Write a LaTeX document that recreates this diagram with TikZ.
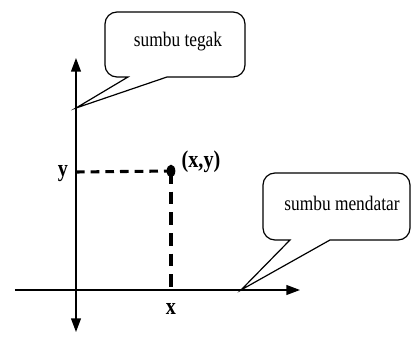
\documentclass[tikz,border=0pt]{standalone}
\usepackage{fontspec}
\setmainfont{Liberation Serif}
\newfontfamily\narrowserif[FakeStretch=0.84]{Liberation Serif}
\usetikzlibrary{arrows.meta,positioning,shapes.geometric}
\tikzset{
  axisline/.style={
    line width=1.1pt,
    -{Triangle[length=3.6mm,width=2.6mm]}
  },
  guide/.style={
    line width=2.3pt,
    dash pattern=on 6.5pt off 4.5pt
  },
  calloutbox/.style={
    draw,
    line width=0.9pt,
    fill=white
  },
  calloutlabel/.style={
    inner sep=0pt,
    font=\narrowserif\fontsize{15.5}{17}\selectfont
  },
  axislabel/.style={
    inner sep=0pt,
    font=\narrowserif\fontsize{18}{20}\selectfont\bfseries
  },
  pointdot/.style={
    ellipse,
    fill=black,
    minimum width=6.5pt,
    minimum height=9.5pt,
    inner sep=0pt
  }
}

\begin{document}
\begin{tikzpicture}[x=0.75pt,y=-0.75pt]
\useasboundingbox (0,0) rectangle (412,343);
\coordinate (ytop) at (76,58);
\coordinate (ybot) at (76,332);
\coordinate (xleft) at (15,290);
\coordinate (xright) at (300,290);
\coordinate (py) at (76,172);
\coordinate (px) at (171,290);
\coordinate (tegaktip) at (76,108);
\coordinate (datartip) at (241,290);
\node[pointdot] (p) at (171,171) {};

% axes
\draw[axisline,{Triangle[length=3.6mm,width=2.6mm]}-{Triangle[length=3.6mm,width=2.6mm]}] (ybot) -- (ytop);
\draw[axisline] (xleft) -- (xright);

\draw[guide] (py) -- (p.center);
\draw[guide,dash pattern=on 9.5pt off 6pt] (p.center) -- (px);

\node[axislabel] (ylabel) at (63,174) {y};
\node[axislabel] (xlabel) at (171,309) {x};
\node[axislabel] (plabel) at (201,162) {(x,y)};

% callouts
\draw[calloutbox,rounded corners=9pt] (167,77) -- (245,77) -- (245,12) -- (105,12) -- (105,77) [sharp corners] -- (128,77) -- (tegaktip) -- cycle;
\node[calloutlabel] (tegak) at (178,42) {sumbu tegak};

\draw[calloutbox,rounded corners=9pt] (330,240) -- (410,240) -- (410,173) -- (263,173) -- (263,240) [sharp corners] -- (290,240) -- (datartip) -- cycle;
\node[calloutlabel] (datar) at (342,203) {sumbu mendatar};
\end{tikzpicture}
\end{document}
